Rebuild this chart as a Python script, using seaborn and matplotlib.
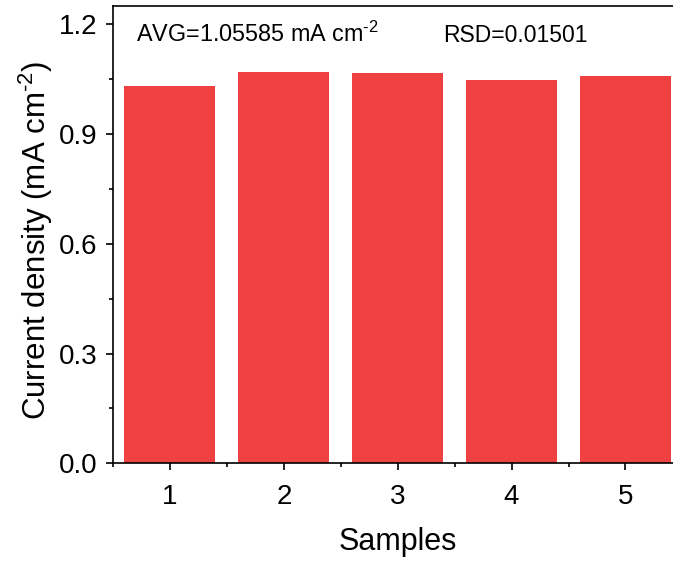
import matplotlib
matplotlib.use("Agg")
import matplotlib.pyplot as plt
import seaborn as sns
import pandas as pd
from matplotlib.ticker import AutoMinorLocator, MultipleLocator

samples = ["1", "2", "3", "4", "5"]
current_density = [1.032, 1.070, 1.067, 1.048, 1.058]
avg_text = r"AVG=1.05585 mA cm$^{\text{-}2}$"
rsd_text = "RSD=0.01501"
ylabel_text = r"Current density (mA cm$^{\text{-}2}$)"

sns.set_style("ticks")
plt.rcParams['font.family'] = ['Liberation Sans', 'DejaVu Sans']
plt.rcParams['mathtext.fontset'] = 'custom'
plt.rcParams['mathtext.rm'] = 'Liberation Sans'
plt.rcParams['mathtext.default'] = 'regular'
plt.rcParams['text.color'] = 'black'
plt.rcParams['axes.labelcolor'] = 'black'
plt.rcParams['xtick.color'] = 'black'
plt.rcParams['ytick.color'] = 'black'

df = pd.DataFrame({"Samples": samples, "Current": current_density})

fig = plt.figure(figsize=(6.73, 5.63), dpi=100)
ax = fig.add_axes([113 / 673, 1 - 463.3 / 563, (682.4 - 113) / 673, (463.3 - 6) / 563])

sns.barplot(data=df, x="Samples", y="Current", color="#F04142", saturation=1,
            width=0.8, ax=ax, edgecolor="none")

ax.set_xlim(-0.5, 4.5)
ax.set_ylim(0, 1.25)
ax.yaxis.set_minor_locator(MultipleLocator(0.15))
ax.xaxis.set_minor_locator(AutoMinorLocator(2))
ax.set_yticks([0.0, 0.3, 0.6, 0.9, 1.2])
ax.set_yticklabels(["0.0", "0.3", "0.6", "0.9", "1.2"])

for s in ax.spines.values():
    s.set_linewidth(1.2)
    s.set_color("black")
    s.set_visible(True)

ax.tick_params(axis="both", which="major", direction="out", length=5, width=1.2,
               labelsize=20, colors="black", labelcolor="black")
ax.tick_params(axis="both", which="minor", direction="out", length=3, width=1.2,
               colors="black")
ax.tick_params(axis="y", pad=6)
ax.tick_params(axis="x", pad=10)

ax.set_xlabel("Samples", fontsize=22, labelpad=12, color="black")
ax.set_ylabel(ylabel_text, fontsize=22.5, labelpad=3, color="black")
ax.yaxis.label.set_y(0.488)

fig.text(136.5 / 673, 1 - 42 / 563, avg_text, fontsize=16.8, ha="left", va="baseline", color="black")
fig.text(443.5 / 673, 1 - 42 / 563, rsd_text, fontsize=16.5, ha="left", va="baseline", color="black")

fig.savefig("out.png", dpi=100)
